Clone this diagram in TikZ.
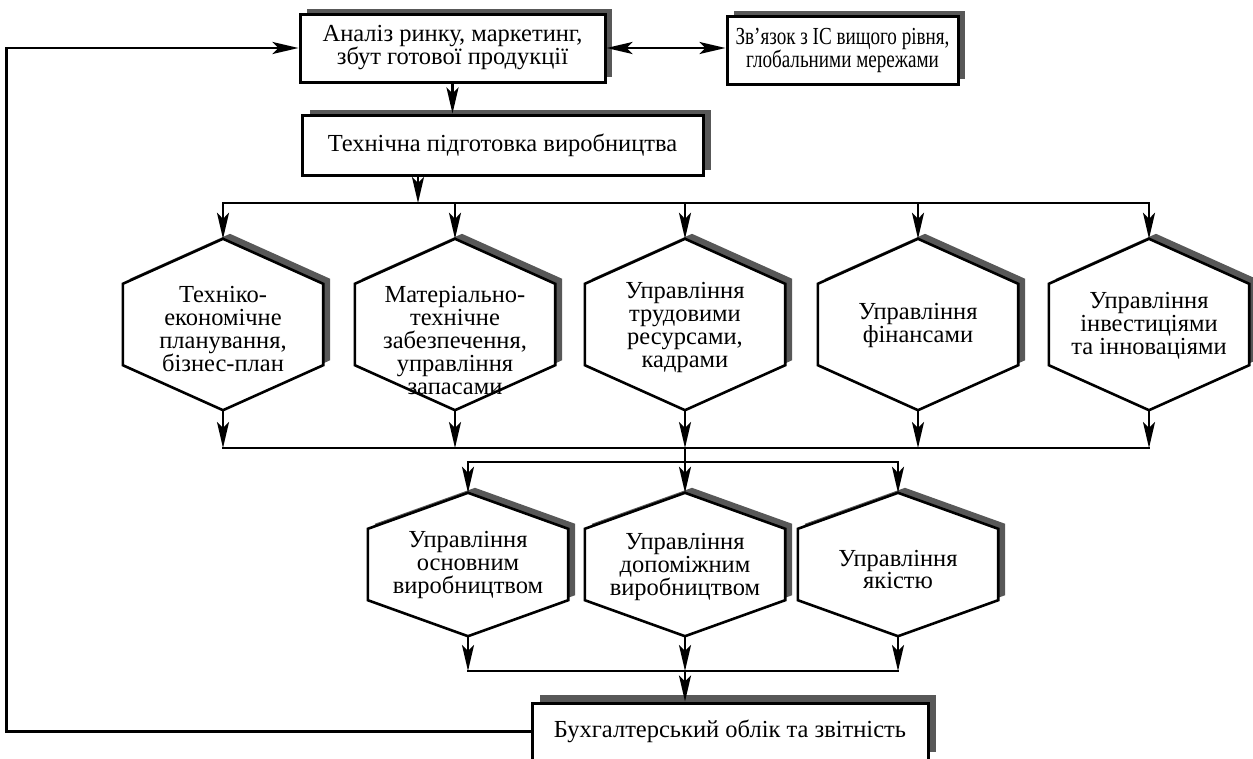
\documentclass[tikz,border=0pt]{standalone}
\usepackage{fontspec}
\setmainfont{Liberation Serif}
\newfontfamily\narrowserif[FakeStretch=0.78]{Liberation Serif}
\usetikzlibrary{arrows.meta,shadows}
\definecolor{shadowc}{HTML}{585858}
\newcommand{\hexpoly}[4]{([xshift=#3,yshift=#4]#1.north) -- ([xshift=#3,yshift=#4-#2]#1.north east) -- ([xshift=#3,yshift=#4+#2]#1.south east) -- ([xshift=#3,yshift=#4]#1.south) -- ([xshift=#3,yshift=#4+#2]#1.south west) -- ([xshift=#3,yshift=#4-#2]#1.north west) -- cycle}
\begin{document}
\begin{tikzpicture}[x=1pt,y=-1pt,
  txt/.style={font=\fontsize{24.5}{23}\selectfont, align=center, inner sep=0pt},
  rbox/.style={txt, draw=black, line width=3pt, fill=white},
  hexn/.style={shape=rectangle, inner sep=0pt, minimum width=200pt},
  hexline/.style={draw=black, fill=white, line width=2.6pt, line join=miter},
  conn/.style={draw=black, line width=2.6pt, line cap=rect},
  arr/.style={draw=black, line width=2.6pt, -{Stealth[length=26pt,width=12pt,inset=6pt]}},
  darr/.style={draw=black, line width=2.6pt, {Stealth[length=26pt,width=12pt,inset=6pt]}-{Stealth[length=26pt,width=12pt,inset=6pt]}}
]
\useasboundingbox (0,0) rectangle (1253,758);

% rectangular boxes
\node[rbox, minimum width=305pt, minimum height=68pt, drop shadow={shadow xshift=7pt, shadow yshift=5pt, fill=shadowc, opacity=1}] (A) at (452.5,48) {Аналіз ринку, маркетинг,\\збут готової продукції};
\node[rbox, font=\narrowserif\fontsize{24.5}{23}\selectfont, minimum width=231pt, minimum height=68pt, drop shadow={shadow xshift=7pt, shadow yshift=5pt, fill=shadowc, opacity=1}] (R) at (842.5,50) {Зв’язок з ІС вищого рівня,\\глобальними мережами};
\node[rbox, minimum width=401pt, minimum height=60pt, drop shadow={shadow xshift=8pt, shadow yshift=5pt, fill=shadowc, opacity=1}] (T) at (502.5,145) {Технічна підготовка виробництва};
\node[rbox, minimum width=396pt, minimum height=57pt, drop shadow={shadow xshift=8pt, shadow yshift=8pt, fill=shadowc, opacity=1}] (B) at (730,731.5) {Бухгалтерський облік та звітність};

% hexagon frames
\foreach \n/\x in {h1/223,h2/455,h3/685,h4/918,h5/1149}
  \node[hexn, minimum height=171pt] (\n) at (\x,324.5) {};
\foreach \n/\x in {g1/468,g2/685,g3/898}
  \node[hexn, minimum height=143pt] (\n) at (\x,564.5) {};
\foreach \n in {h1,h2,h3,h4,h5} {
  \fill[shadowc] \hexpoly{\n}{45pt}{7pt}{5pt};
  \path[hexline] \hexpoly{\n}{45pt}{0pt}{0pt};
}
\foreach \n in {g1,g2,g3} {
  \fill[shadowc] \hexpoly{\n}{36pt}{7pt}{5pt};
  \path[hexline] \hexpoly{\n}{36pt}{0pt}{0pt};
}

% hexagon texts
\node[txt] (h1t) at (223,329.5) {Техніко-\\економічне\\планування,\\бізнес-план};
\node[txt] (h2t) at (455,340.5) {Матеріально-\\технічне\\забезпечення,\\управління\\запасами};
\node[txt] (h3t) at (685,327) {Управління\\трудовими\\ресурсами,\\кадрами};
\node[txt] (h4t) at (918,325.5) {Управління\\фінансами};
\node[txt] (h5t) at (1149,326) {Управління\\інвестиціями\\та інноваціями};
\node[txt] (g1t) at (468,565) {Управління\\основним\\виробництвом};
\node[txt] (g2t) at (685,567) {Управління\\допоміжним\\виробництвом};
\node[txt] (g3t) at (898,569.5) {Управління\\якістю};

% bus coordinates
\coordinate (bus1) at (418,203);
\coordinate (bus2) at (685,448);
\coordinate (bus3) at (685,462);
\coordinate (bus4) at (685,671);

% connectors
\draw[arr] (A.south) -- (A.south |- T.north);
\draw[darr] (A.east) -- (A.east -| R.west);
\draw[arr] (T.south -| bus1) -- (bus1);
\draw[conn] (h1.north |- bus1) -- (h5.north |- bus1);
\foreach \n in {h1,h2,h3,h4,h5}
  \draw[arr] (\n.north |- bus1) -- (\n.north);
\draw[conn] (h1.south |- bus2) -- (h5.south |- bus2);
\foreach \n in {h1,h2,h4,h5}
  \draw[arr] (\n.south) -- (\n.south |- bus2);
\draw[arr] (h3.south) -- (bus2);
\draw[arr] (bus2) -- (g2.north);
\draw[conn] (g1.north |- bus3) -- (g3.north |- bus3);
\draw[arr] (g1.north |- bus3) -- (g1.north);
\draw[arr] (g3.north |- bus3) -- (g3.north);
\draw[conn] (g1.south |- bus4) -- (g3.south |- bus4);
\foreach \n in {g1,g2,g3}
  \draw[arr] (\n.south) -- (\n.south |- bus4);
\draw[arr] (bus4) -- (bus4 |- B.north);
\draw[arr, line join=miter] (B.west) -- ++(-524,0) |- (A.west);
\end{tikzpicture}
\end{document}
